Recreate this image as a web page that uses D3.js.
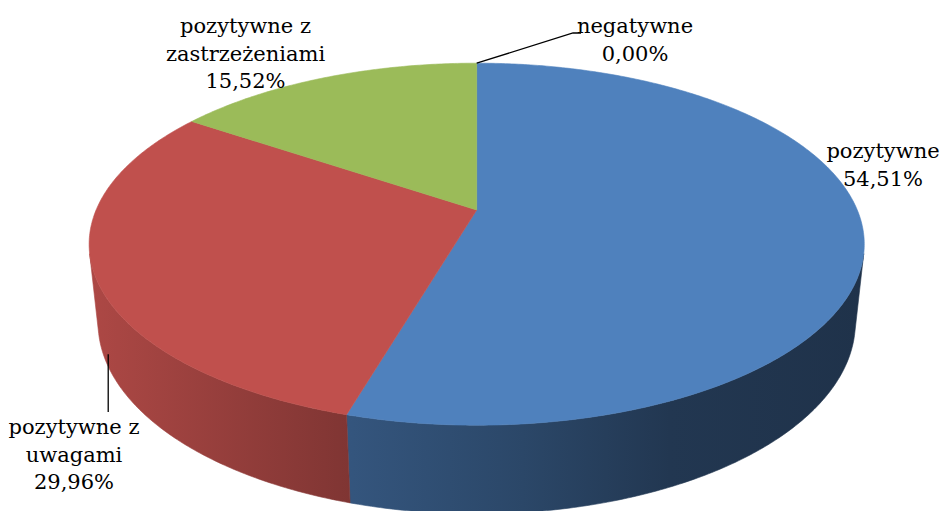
<!DOCTYPE html>
<html>
<head>
<meta charset="utf-8">
<script src="https://cdn.jsdelivr.net/npm/d3@7"></script>
<style>
  body { margin: 0; background: #fff; }
  svg { display: block; }
</style>
</head>
<body>
<svg id="chart" width="944" height="511"></svg>
<script>
// Opinion categories and their shares (%)
const categories = ["pozytywne", "pozytywne z uwagami", "pozytywne z zastrzeżeniami", "negatywne"];
const values = [54.51, 29.96, 15.52, 0.00];
const colors = ["#4F81BD", "#C0504D", "#9BBB59", "#8064A2"];
const labelLines = [
  ["pozytywne", "54,51%"],
  ["pozytywne z", "uwagami", "29,96%"],
  ["pozytywne z", "zastrzeżeniami", "15,52%"],
  ["negatywne", "0,00%"]
];

// Label placement: centre x and first baseline
const labelPos = [[883, 158], [74, 434], [245.5, 33], [635, 33]];
const lineHeight = 27.5;

// Perspective camera for the 3D pie (unit radius disc, top face at z = 0)
const cam = { cx: 476.7, cy: 210, F: 1791.5, L: 4.707, tilt: 27.3 * Math.PI / 180, depth: 0.2332 };

function project(a, r, z) {
  const X = r * Math.sin(a), Y = r * Math.cos(a);
  const c = Math.cos(cam.tilt), s = Math.sin(cam.tilt);
  const d = cam.L + Y * c - z * s;
  return [cam.cx + cam.F * X / d, cam.cy - cam.F * (Y * s + z * c) / d];
}

function arcPoints(a0, a1, z) {
  const n = Math.max(2, Math.ceil(Math.abs(a1 - a0) / 0.01));
  return d3.range(n + 1).map(i => project(a0 + (a1 - a0) * i / n, 1, z));
}

const svg = d3.select("#chart");
const defs = svg.append("defs");

const pie = d3.pie().sort(null).value(d => d)(values);

// Front wall is visible where the outward normal faces the camera
const visA = Math.acos(-1 / (cam.L * Math.cos(cam.tilt)));
const visB = 2 * Math.PI - visA;

// Horizontal shading of the side wall
const xLeft = project(visB, 1, 0)[0], xRight = project(visA, 1, 0)[0];
const shade = [[0, 0.9], [0.34, 0.66], [0.56, 0.55], [0.75, 0.43], [1, 0.39]];
colors.forEach((col, i) => {
  const base = d3.rgb(col);
  const g = defs.append("linearGradient")
    .attr("id", "side" + i)
    .attr("gradientUnits", "userSpaceOnUse")
    .attr("x1", xLeft).attr("x2", xRight).attr("y1", 0).attr("y2", 0);
  shade.forEach(([o, f]) => {
    g.append("stop").attr("offset", o)
      .attr("stop-color", d3.rgb(base.r * f, base.g * f, base.b * f).formatHex());
  });
});

const line = d3.line();

// Side walls
const sides = svg.append("g");
pie.forEach((p, i) => {
  const a0 = Math.max(p.startAngle, visA), a1 = Math.min(p.endAngle, visB);
  if (a1 <= a0) return;
  const pts = arcPoints(a0, a1, 0).concat(arcPoints(a1, a0, -cam.depth));
  sides.append("path")
    .attr("d", line(pts) + "Z")
    .attr("fill", `url(#side${i})`)
    .attr("stroke", `url(#side${i})`)
    .attr("stroke-width", 0.6);
});

// Top faces
const tops = svg.append("g");
pie.forEach((p, i) => {
  if (p.endAngle - p.startAngle <= 0) return;
  const pts = [project(0, 0, 0)].concat(arcPoints(p.startAngle, p.endAngle, 0));
  tops.append("path")
    .attr("d", line(pts) + "Z")
    .attr("fill", colors[i])
    .attr("stroke", colors[i])
    .attr("stroke-width", 0.6)
    .attr("stroke-linejoin", "round");
});

// Leader lines
const leaders = svg.append("g").attr("stroke", "#000").attr("stroke-width", 1.3).attr("fill", "none");
const negTop = project(pie[3].startAngle, 1, 0);
leaders.append("path").attr("d", line([negTop, [573, 33], [581, 33]]));
const uwAnchor = project(245.5 * Math.PI / 180, 1, -cam.depth * 0.8);
leaders.append("path").attr("d", line([[uwAnchor[0], uwAnchor[1]], [uwAnchor[0], 412]]));

// Data labels
const labels = svg.append("g");
labelLines.forEach((lines, i) => {
  const t = labels.append("text")
    .attr("text-anchor", "middle")
    .style("font-family", "'DejaVu Serif', serif")
    .style("font-size", "21px")
    .attr("fill", "#000");
  lines.forEach((s, j) => {
    t.append("tspan").attr("x", labelPos[i][0]).attr("y", labelPos[i][1] + j * lineHeight).text(s);
  });
});
</script>
</body>
</html>
